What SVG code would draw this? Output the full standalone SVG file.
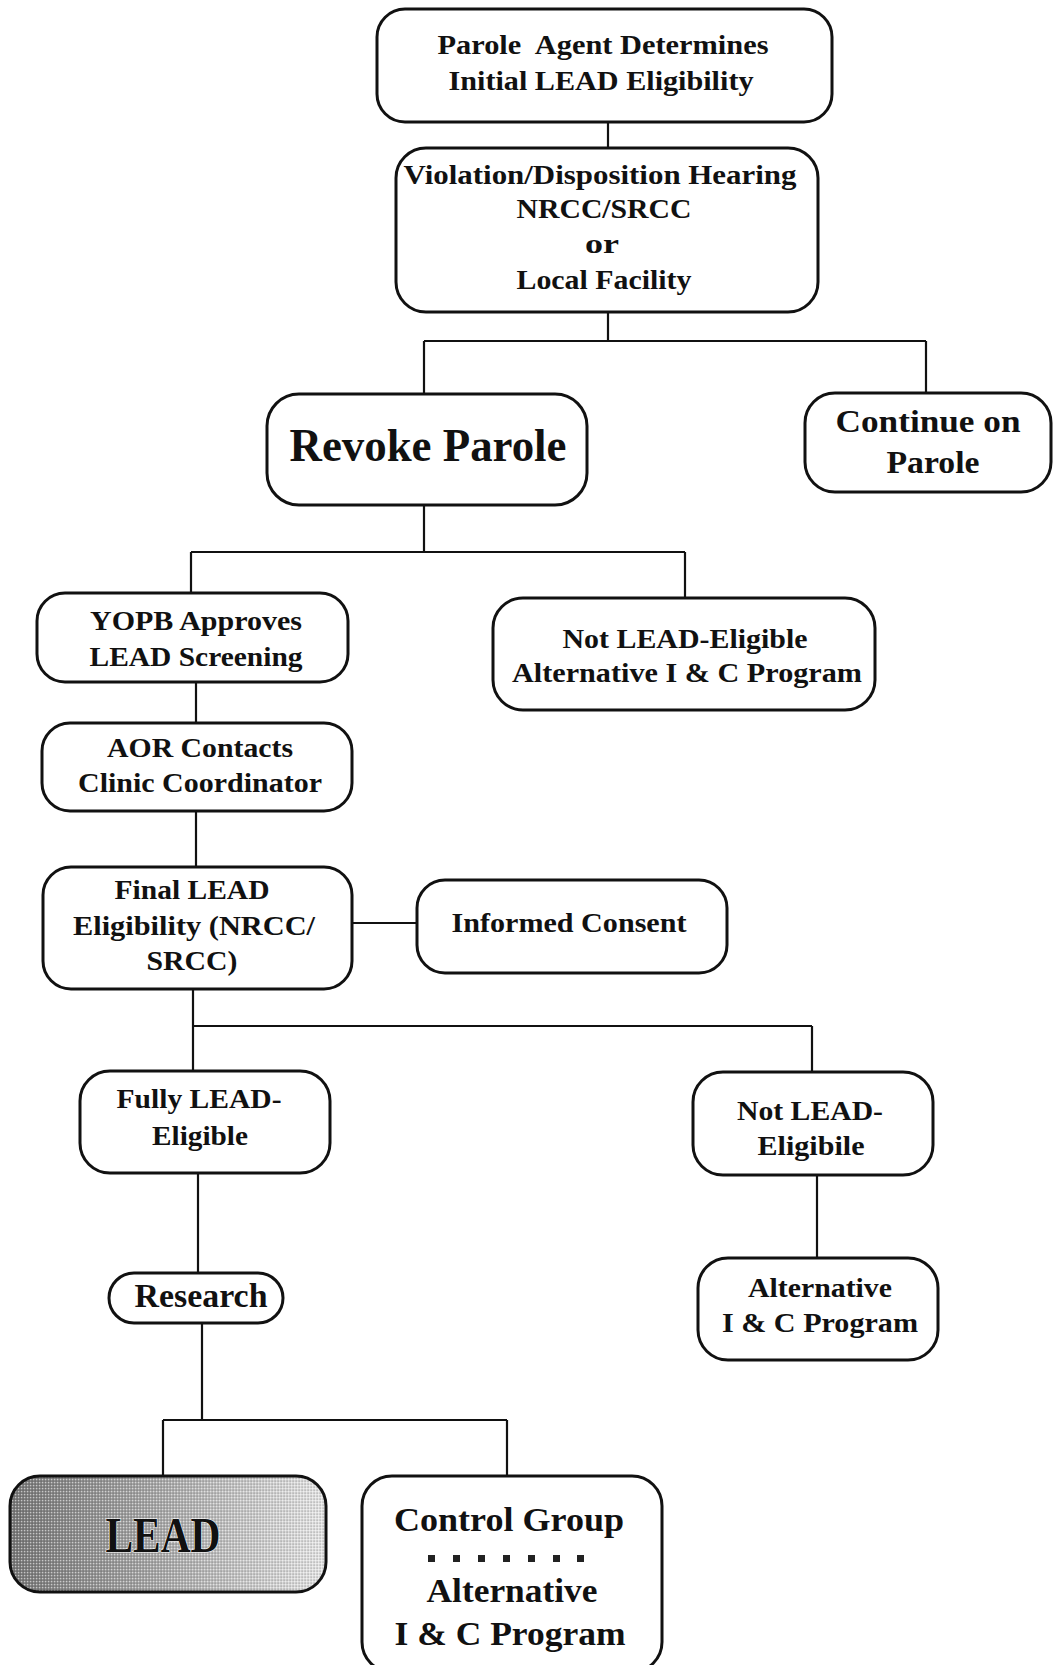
<svg xmlns="http://www.w3.org/2000/svg" width="1053" height="1665" viewBox="0 0 1053 1665">
<style>
  .box { fill: #ffffff; stroke: #111; stroke-width: 3; }
  .conn { fill: none; stroke: #111; stroke-width: 2.2; }
  text { font-family: "Liberation Serif", "Times New Roman", serif; font-weight: bold; fill: #111; text-anchor: middle; }
  .t28 { font-size: 28px; }
  .t27 { font-size: 27px; }
  .t31 { font-size: 31px; }
  .t33 { font-size: 33px; }
  .t34 { font-size: 34px; }
  .t46 { font-size: 46px; }
  .t50 { font-size: 50px; }
  .dot { fill: #222; }
</style>
<defs>
  <linearGradient id="leadFill" x1="0" y1="0" x2="1" y2="0">
    <stop offset="0" stop-color="#7a7a7a"/>
    <stop offset="0.45" stop-color="#a8a8a8"/>
    <stop offset="1" stop-color="#e6e6e6"/>
  </linearGradient>
  <pattern id="dither" width="3" height="3" patternUnits="userSpaceOnUse">
    <rect x="0" y="0" width="1.2" height="1.2" fill="#ffffff" opacity="0.55"/>
    <rect x="1.5" y="1.5" width="1.2" height="1.2" fill="#000000" opacity="0.3"/>
  </pattern>
</defs>
<rect width="1053" height="1665" fill="#ffffff"/>

<g id="connectors">
  <path class="conn" d="M608 122 V148"/>
  <path class="conn" d="M608 312 V341 M424 341 H926 M424 341 V394 M926 341 V393"/>
  <path class="conn" d="M424 505 V552 M191 552 H685 M191 552 V593 M685 552 V598"/>
  <path class="conn" d="M196 682 V723"/>
  <path class="conn" d="M196 811 V867"/>
  <path class="conn" d="M352 923 H417"/>
  <path class="conn" d="M193 989 V1026 M193 1026 H812 M193 1026 V1071 M812 1026 V1072"/>
  <path class="conn" d="M198 1173 V1273"/>
  <path class="conn" d="M817 1175 V1258"/>
  <path class="conn" d="M202 1323 V1420 M163 1420 H507 M163 1420 V1476 M507 1420 V1476"/>
</g>

<g id="node-parole-agent">
  <rect class="box" x="377" y="9" width="455" height="113" rx="28"/>
  <text class="t28" x="603" y="54" textLength="331" lengthAdjust="spacingAndGlyphs" xml:space="preserve">Parole  Agent Determines</text>
  <text class="t28" x="601" y="90" textLength="305" lengthAdjust="spacingAndGlyphs">Initial LEAD Eligibility</text>
</g>

<g id="node-hearing">
  <rect class="box" x="396" y="148" width="422" height="164" rx="30"/>
  <text class="t28" x="600" y="184" textLength="393" lengthAdjust="spacingAndGlyphs">Violation/Disposition Hearing</text>
  <text class="t28" x="604" y="218" textLength="175" lengthAdjust="spacingAndGlyphs">NRCC/SRCC</text>
  <text class="t28" x="602" y="253" textLength="34" lengthAdjust="spacingAndGlyphs">or</text>
  <text class="t28" x="604" y="289" textLength="175" lengthAdjust="spacingAndGlyphs">Local Facility</text>
</g>

<g id="node-revoke">
  <rect class="box" x="267" y="394" width="320" height="111" rx="32"/>
  <text class="t46" x="428" y="461" textLength="277" lengthAdjust="spacingAndGlyphs">Revoke Parole</text>
</g>

<g id="node-continue">
  <rect class="box" x="805" y="393" width="246" height="99" rx="30"/>
  <text class="t31" x="928" y="432" textLength="185" lengthAdjust="spacingAndGlyphs">Continue on</text>
  <text class="t31" x="933" y="473" textLength="93" lengthAdjust="spacingAndGlyphs">Parole</text>
</g>

<g id="node-yopb">
  <rect class="box" x="37" y="593" width="311" height="89" rx="28"/>
  <text class="t28" x="196" y="630" textLength="212" lengthAdjust="spacingAndGlyphs">YOPB Approves</text>
  <text class="t28" x="196" y="666" textLength="213" lengthAdjust="spacingAndGlyphs">LEAD Screening</text>
</g>

<g id="node-not-eligible-1">
  <rect class="box" x="493" y="598" width="382" height="112" rx="30"/>
  <text class="t28" x="685" y="648" textLength="245" lengthAdjust="spacingAndGlyphs">Not LEAD-Eligible</text>
  <text class="t28" x="687" y="682" textLength="350" lengthAdjust="spacingAndGlyphs">Alternative I &amp; C Program</text>
</g>

<g id="node-aor">
  <rect class="box" x="42" y="723" width="310" height="88" rx="28"/>
  <text class="t28" x="200" y="757" textLength="186" lengthAdjust="spacingAndGlyphs">AOR Contacts</text>
  <text class="t28" x="200" y="792" textLength="244" lengthAdjust="spacingAndGlyphs">Clinic Coordinator</text>
</g>

<g id="node-final">
  <rect class="box" x="43" y="867" width="309" height="122" rx="28"/>
  <text class="t28" x="192" y="899" textLength="155" lengthAdjust="spacingAndGlyphs">Final LEAD</text>
  <text class="t28" x="194" y="935" textLength="242" lengthAdjust="spacingAndGlyphs">Eligibility (NRCC/</text>
  <text class="t28" x="192" y="970" textLength="91" lengthAdjust="spacingAndGlyphs">SRCC)</text>
</g>

<g id="node-consent">
  <rect class="box" x="417" y="880" width="310" height="93" rx="28"/>
  <text class="t28" x="569" y="932" textLength="235" lengthAdjust="spacingAndGlyphs">Informed Consent</text>
</g>

<g id="node-fully">
  <rect class="box" x="80" y="1071" width="250" height="102" rx="30"/>
  <text class="t28" x="199" y="1108" textLength="165" lengthAdjust="spacingAndGlyphs">Fully LEAD-</text>
  <text class="t28" x="200" y="1145" textLength="96" lengthAdjust="spacingAndGlyphs">Eligible</text>
</g>

<g id="node-not-eligible-2">
  <rect class="box" x="693" y="1072" width="240" height="103" rx="30"/>
  <text class="t28" x="810" y="1120" textLength="146" lengthAdjust="spacingAndGlyphs">Not LEAD-</text>
  <text class="t28" x="811" y="1155" textLength="107" lengthAdjust="spacingAndGlyphs">Eligibile</text>
</g>

<g id="node-research">
  <rect class="box" x="109" y="1273" width="174" height="50" rx="25"/>
  <text class="t33" x="201" y="1307" textLength="133" lengthAdjust="spacingAndGlyphs">Research</text>
</g>

<g id="node-alternative">
  <rect class="box" x="698" y="1258" width="240" height="102" rx="30"/>
  <text class="t27" x="820" y="1297" textLength="144" lengthAdjust="spacingAndGlyphs">Alternative</text>
  <text class="t27" x="820" y="1332" textLength="196" lengthAdjust="spacingAndGlyphs">I &amp; C Program</text>
</g>

<g id="node-lead">
  <rect x="10" y="1476" width="316" height="116" rx="30" fill="url(#leadFill)"/>
  <rect x="10" y="1476" width="316" height="116" rx="30" fill="url(#dither)" stroke="#111" stroke-width="3"/>
  <text class="t50" x="163" y="1552" textLength="115" lengthAdjust="spacingAndGlyphs" stroke="#ffffff" stroke-width="1" paint-order="stroke">LEAD</text>
</g>

<g id="node-control">
  <rect class="box" x="362" y="1476" width="300" height="196" rx="30"/>
  <text class="t34" x="509" y="1531" textLength="230" lengthAdjust="spacingAndGlyphs">Control Group</text>
  <g id="dots">
    <rect class="dot" x="428" y="1555" width="7" height="7"/>
    <rect class="dot" x="453" y="1555" width="7" height="7"/>
    <rect class="dot" x="478" y="1555" width="7" height="7"/>
    <rect class="dot" x="503" y="1555" width="7" height="7"/>
    <rect class="dot" x="528" y="1555" width="7" height="7"/>
    <rect class="dot" x="553" y="1555" width="7" height="7"/>
    <rect class="dot" x="577" y="1555" width="7" height="7"/>
  </g>
  <text class="t34" x="512" y="1602" textLength="171" lengthAdjust="spacingAndGlyphs">Alternative</text>
  <text class="t34" x="510" y="1645" textLength="231" lengthAdjust="spacingAndGlyphs">I &amp; C Program</text>
</g>
</svg>
